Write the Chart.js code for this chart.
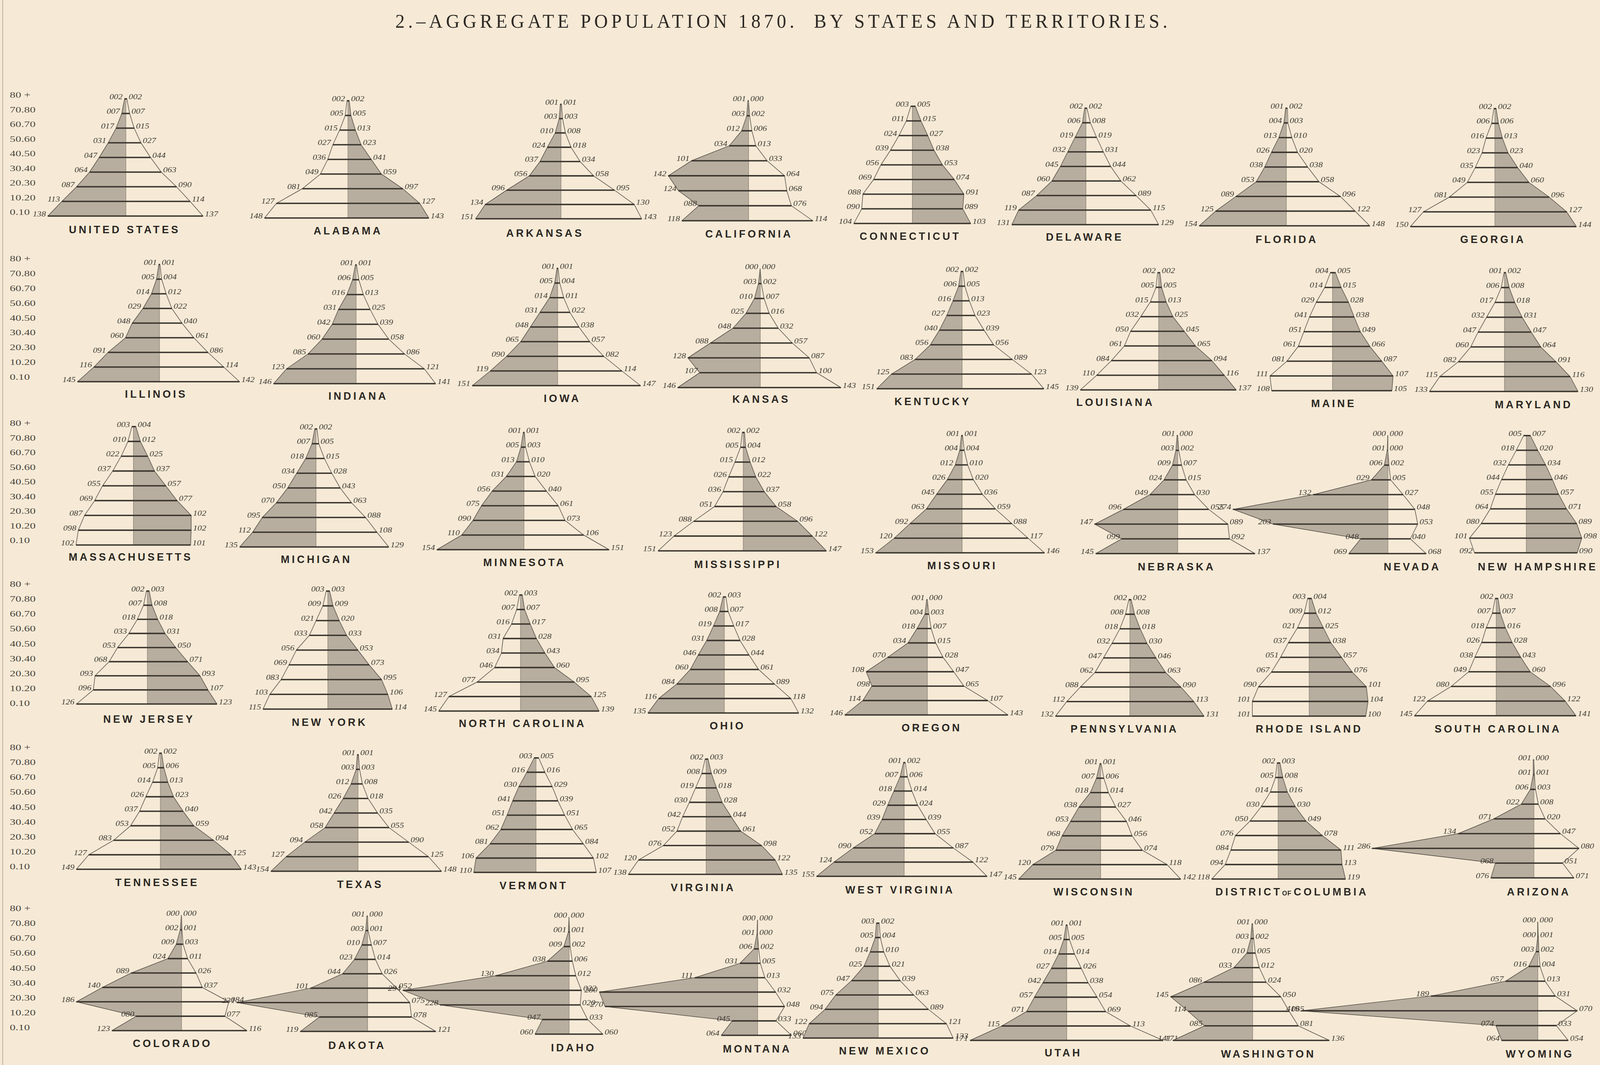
<!DOCTYPE html>
<html lang="en">
<head>
<meta charset="utf-8">
<title>Aggregate population 1870 by states and territories</title>
<script src="https://cdn.jsdelivr.net/npm/chart.js"></script>
<style>
  html, body { margin: 0; padding: 0; overflow: hidden; background: #f6ead6; }
  #plate {
    position: absolute; left: 0; top: 0;
    width: 4252px; height: 2726px;
    overflow: hidden;
    background: #f6ead6;
    transform-origin: 0 0;
  }
  canvas { position: absolute; }
  .edge {
    position: absolute; left: 6px; top: 0; width: 2px; height: 100%;
    background: rgba(110, 100, 90, 0.45);
  }
  .title {
    position: absolute; top: 29px; left: 2081px;
    transform: translateX(-50%);
    font-family: "Liberation Serif", serif; font-size: 50px; line-height: 1;
    letter-spacing: 9px; color: #2f2a26; white-space: nowrap;
  }
  .age {
    position: absolute; left: 26px;
    font-family: "Liberation Serif", serif; font-size: 21px; line-height: 1;
    color: #4a443d; white-space: nowrap;
    transform-origin: left center;
    transform: translateY(-50%) scaleX(1.45);
  }
  .state {
    position: absolute;
    font-family: "Liberation Sans", sans-serif; font-weight: bold;
    font-size: 28px; line-height: 1; letter-spacing: 6px; padding-left: 6px;
    color: #2b2723; white-space: nowrap;
    transform: translate(-50%, -50%);
  }
  .state small { font-size: 17px; letter-spacing: 1px; margin-right: 5px; }
</style>
</head>
<body>
<div id="plate">
  <div class="edge"></div>
  <div class="title">2.–AGGREGATE POPULATION 1870.&nbsp; BY STATES AND TERRITORIES.</div>
</div>
<script>
// Age groups, bottom line of each pyramid first
const ageGroups = ['0.10', '10.20', '20.30', '30.40', '40.50', '50.60', '60.70', '70.80', '80 +'];

const stateNames = [
  'UNITED STATES', 'ALABAMA', 'ARKANSAS', 'CALIFORNIA', 'CONNECTICUT', 'DELAWARE', 'FLORIDA', 'GEORGIA',
  'ILLINOIS', 'INDIANA', 'IOWA', 'KANSAS', 'KENTUCKY', 'LOUISIANA', 'MAINE', 'MARYLAND',
  'MASSACHUSETTS', 'MICHIGAN', 'MINNESOTA', 'MISSISSIPPI', 'MISSOURI', 'NEBRASKA', 'NEVADA', 'NEW HAMPSHIRE',
  'NEW JERSEY', 'NEW YORK', 'NORTH CAROLINA', 'OHIO', 'OREGON', 'PENNSYLVANIA', 'RHODE ISLAND', 'SOUTH CAROLINA',
  'TENNESSEE', 'TEXAS', 'VERMONT', 'VIRGINIA', 'WEST VIRGINIA', 'WISCONSIN', 'DISTRICT OF COLUMBIA', 'ARIZONA',
  'COLORADO', 'DAKOTA', 'IDAHO', 'MONTANA', 'NEW MEXICO', 'UTAH', 'WASHINGTON', 'WYOMING'
];

// Males per thousand of the population, by age group (left side)
const males = [
  [138, 113, 87, 64, 47, 31, 17, 7, 2],     // United States
  [148, 127, 81, 49, 36, 27, 15, 5, 2],     // Alabama
  [151, 134, 96, 56, 37, 24, 10, 3, 1],     // Arkansas
  [118, 88, 124, 142, 101, 34, 12, 3, 1],   // California
  [104, 90, 88, 69, 56, 39, 24, 11, 3],     // Connecticut
  [131, 119, 87, 60, 45, 32, 19, 6, 2],     // Delaware
  [154, 125, 89, 53, 38, 26, 13, 4, 1],     // Florida
  [150, 127, 81, 49, 35, 23, 16, 6, 2],     // Georgia
  [145, 116, 91, 60, 48, 29, 14, 5, 1],     // Illinois
  [146, 123, 85, 60, 42, 31, 16, 6, 1],     // Indiana
  [151, 119, 90, 65, 48, 31, 14, 5, 1],     // Iowa
  [146, 107, 128, 88, 48, 25, 10, 3, 0],    // Kansas
  [151, 125, 83, 56, 40, 27, 16, 6, 2],     // Kentucky
  [139, 110, 84, 61, 50, 32, 15, 5, 2],     // Louisiana
  [108, 111, 81, 61, 51, 41, 29, 14, 4],    // Maine
  [133, 115, 82, 60, 47, 32, 17, 6, 1],     // Maryland
  [102, 98, 87, 69, 55, 37, 22, 10, 3],     // Massachusetts
  [135, 112, 95, 70, 50, 34, 18, 7, 2],     // Michigan
  [154, 110, 90, 75, 56, 31, 13, 5, 1],     // Minnesota
  [151, 123, 88, 51, 36, 26, 15, 5, 2],     // Mississippi
  [153, 120, 92, 63, 45, 26, 12, 4, 1],     // Missouri
  [145, 99, 147, 96, 49, 24, 9, 3, 1],      // Nebraska
  [69, 48, 203, 274, 132, 29, 6, 1, 0],     // Nevada
  [92, 101, 80, 64, 55, 44, 32, 18, 5],     // New Hampshire
  [126, 96, 93, 68, 53, 33, 18, 7, 2],      // New Jersey
  [115, 103, 83, 69, 56, 33, 21, 9, 3],     // New York
  [145, 127, 77, 46, 34, 31, 16, 7, 2],     // North Carolina
  [135, 116, 84, 60, 46, 31, 19, 8, 2],     // Ohio
  [146, 114, 98, 108, 70, 34, 18, 4, 1],    // Oregon
  [132, 112, 88, 62, 47, 32, 18, 8, 2],     // Pennsylvania
  [101, 101, 90, 67, 51, 37, 21, 9, 3],     // Rhode Island
  [145, 122, 80, 49, 38, 26, 18, 7, 2],     // South Carolina
  [149, 127, 83, 53, 37, 26, 14, 5, 2],     // Tennessee
  [154, 127, 94, 58, 42, 26, 12, 3, 1],     // Texas
  [110, 106, 81, 62, 51, 41, 30, 16, 3],    // Vermont
  [138, 120, 76, 52, 42, 30, 19, 8, 2],     // Virginia
  [155, 124, 90, 52, 39, 29, 18, 7, 1],     // West Virginia
  [145, 120, 79, 68, 53, 38, 18, 7, 1],     // Wisconsin
  [118, 94, 84, 76, 50, 30, 14, 5, 2],      // District of Columbia
  [76, 68, 286, 134, 71, 22, 6, 1, 1],      // Arizona
  [123, 80, 186, 140, 89, 24, 9, 2, 0],     // Colorado
  [119, 85, 231, 101, 44, 23, 10, 3, 1],    // Dakota
  [60, 47, 228, 294, 130, 38, 9, 1, 0],     // Idaho
  [64, 45, 270, 280, 111, 31, 6, 1, 0],     // Montana
  [133, 122, 94, 75, 47, 25, 14, 5, 3],     // New Mexico
  [171, 115, 71, 57, 42, 27, 14, 5, 1],     // Utah
  [141, 85, 114, 145, 86, 33, 10, 3, 1],    // Washington
  [64, 74, 419, 189, 57, 16, 3, 0, 0]       // Wyoming
];

// Females per thousand of the population, by age group (right side)
const females = [
  [137, 114, 90, 63, 44, 27, 15, 7, 2],     // United States
  [143, 127, 97, 59, 41, 23, 13, 5, 2],     // Alabama
  [143, 130, 95, 58, 34, 18, 8, 3, 1],      // Arkansas
  [114, 76, 68, 64, 33, 13, 6, 2, 0],       // California
  [103, 89, 91, 74, 53, 38, 27, 15, 5],     // Connecticut
  [129, 115, 89, 62, 44, 31, 19, 8, 2],     // Delaware
  [148, 122, 96, 58, 38, 20, 10, 3, 2],     // Florida
  [144, 127, 96, 60, 40, 23, 13, 6, 2],     // Georgia
  [142, 114, 86, 61, 40, 22, 12, 4, 1],     // Illinois
  [141, 121, 86, 58, 39, 25, 13, 5, 1],     // Indiana
  [147, 114, 82, 57, 38, 22, 11, 4, 1],     // Iowa
  [143, 100, 87, 57, 32, 16, 7, 2, 0],      // Kansas
  [145, 123, 89, 56, 39, 23, 13, 5, 2],     // Kentucky
  [137, 116, 94, 65, 45, 25, 13, 5, 2],     // Louisiana
  [105, 107, 87, 66, 49, 38, 28, 15, 5],    // Maine
  [130, 116, 91, 64, 47, 31, 18, 8, 2],     // Maryland
  [101, 102, 102, 77, 57, 37, 25, 12, 4],   // Massachusetts
  [129, 108, 88, 63, 43, 28, 15, 5, 2],     // Michigan
  [151, 106, 73, 61, 40, 20, 10, 3, 1],     // Minnesota
  [147, 122, 96, 58, 37, 22, 12, 4, 2],     // Mississippi
  [146, 117, 88, 59, 36, 20, 10, 4, 1],     // Missouri
  [137, 92, 89, 55, 30, 15, 7, 2, 0],       // Nebraska
  [68, 40, 53, 48, 27, 5, 2, 0, 0],         // Nevada
  [90, 98, 89, 71, 57, 46, 34, 20, 7],      // New Hampshire
  [123, 107, 93, 71, 50, 31, 18, 8, 3],     // New Jersey
  [114, 106, 95, 73, 53, 33, 20, 9, 3],     // New York
  [139, 125, 95, 60, 43, 28, 17, 7, 3],     // North Carolina
  [132, 118, 89, 61, 44, 28, 17, 7, 3],     // Ohio
  [143, 107, 65, 47, 28, 15, 7, 3, 0],      // Oregon
  [131, 113, 90, 63, 46, 30, 18, 8, 2],     // Pennsylvania
  [100, 104, 101, 76, 57, 38, 25, 12, 4],   // Rhode Island
  [141, 122, 96, 60, 43, 28, 16, 7, 3],     // South Carolina
  [143, 125, 94, 59, 40, 23, 13, 6, 2],     // Tennessee
  [148, 125, 90, 55, 35, 18, 8, 3, 1],      // Texas
  [107, 102, 84, 65, 51, 39, 29, 16, 5],    // Vermont
  [135, 122, 98, 61, 44, 28, 18, 9, 3],     // Virginia
  [147, 122, 87, 55, 39, 24, 14, 6, 2],     // West Virginia
  [142, 118, 74, 56, 46, 27, 14, 6, 1],     // Wisconsin
  [119, 113, 111, 78, 49, 30, 16, 8, 3],    // District of Columbia
  [71, 51, 80, 47, 20, 8, 3, 1, 0],         // Arizona
  [116, 77, 84, 37, 26, 11, 3, 1, 0],       // Colorado
  [121, 78, 75, 52, 26, 14, 7, 1, 0],       // Dakota
  [60, 33, 20, 22, 12, 6, 2, 1, 0],         // Idaho
  [60, 33, 48, 32, 13, 5, 2, 0, 0],         // Montana
  [133, 121, 89, 63, 39, 21, 10, 4, 2],     // New Mexico
  [171, 113, 69, 54, 38, 26, 14, 5, 1],     // Utah
  [136, 81, 65, 50, 24, 12, 5, 2, 0],       // Washington
  [54, 33, 70, 31, 13, 4, 2, 1, 0]          // Wyoming
];

// Which half carries the tint on the plate ('M' left, 'F' right)
const shadedSide = [
  'M', 'F', 'M', 'M', 'F', 'M', 'M', 'F',
  'M', 'M', 'M', 'M', 'M', 'F', 'F', 'F',
  'F', 'M', 'M', 'F', 'M', 'M', 'M', 'F',
  'F', 'F', 'F', 'M', 'M', 'F', 'F', 'F',
  'F', 'M', 'M', 'F', 'M', 'M', 'F', 'M',
  'M', 'M', 'M', 'M', 'M', 'M', 'M', 'M'
];

// Layout in plate pixels: axis x, y of the 0.10 line, y of the 80 + point
const panelSpot = [
  [334, 553, 253], [925, 558, 258], [1490, 560, 267], [1989, 565, 258],
  [2425, 572, 272], [2885, 575, 277], [3418, 578, 277], [3973, 580, 278],
  [423, 977, 677], [946, 982, 678], [1481, 987, 687], [2020, 992, 688],
  [2556, 995, 695], [3079, 998, 698], [3541, 1000, 698], [3998, 1002, 698],
  [355, 1395, 1092], [839, 1400, 1098], [1392, 1407, 1107], [1975, 1410, 1107],
  [2556, 1415, 1115], [3129, 1417, 1115], [3688, 1417, 1115], [4056, 1415, 1115],
  [392, 1802, 1513], [871, 1815, 1513], [1383, 1820, 1523], [1924, 1825, 1528],
  [2464, 1830, 1535], [3003, 1833, 1535], [3479, 1833, 1532], [3976, 1832, 1532],
  [426, 2225, 1928], [951, 2230, 1932], [1424, 2233, 1940], [1877, 2238, 1943],
  [2402, 2243, 1952], [2924, 2250, 1955], [3397, 2250, 1953], [4076, 2247, 1945],
  [482, 2638, 2343], [976, 2640, 2345], [1512, 2647, 2348], [2013, 2650, 2355],
  [2333, 2657, 2363], [2834, 2663, 2368], [3328, 2663, 2365], [4086, 2663, 2360]
];

// Name centres, measured on a 1568 px wide proof of the plate
const nameSpot = [
  [121, 217], [340, 218], [533, 220], [733, 221], [891, 223], [1062, 224], [1260, 226], [1462, 226],
  [152, 372], [350, 374], [550, 376], [745, 377], [913, 379], [1092, 380], [1306, 381], [1502, 382],
  [127, 526], [309, 528], [513, 531], [722, 533], [942, 534], [1152, 535], [1383, 535], [1506, 535],
  [145, 679], [322, 682], [511, 683], [712, 685], [912, 687], [1101, 688], [1282, 688], [1467, 688],
  [153, 833], [352, 835], [522, 836], [688, 838], [881, 840], [1071, 842], [1265, 842], [1507, 842],
  [168, 985], [349, 987], [561, 989], [741, 990], [866, 992], [1041, 994], [1242, 995], [1508, 995]
];
const PROOF = 4252 / 1568;

// Centre y of the '80 +' and '0.10' row captions on the left margin
const rowAgeSpan = [[243, 543], [662, 965], [1083, 1383], [1495, 1800], [1913, 2218], [2325, 2630]];

const UNIT = 1.5;          // plate pixels per thousandth
const INK = '#3a352f';
const OUTLINE = '#524b44';
const SHADE = '#b8ae9f';

const plate = document.getElementById('plate');
// stretch the 4252 x 2726 plate over whatever viewport we are given
plate.style.transform = `scale(${window.innerWidth / 4252}, ${window.innerHeight / 2726})`;

const pad3 = (v) => String(v).padStart(3, '0');

// Writes the per-thousand figures beside each end of every age line
const figureLabels = {
  id: 'figureLabels',
  afterDatasetsDraw(chart, args, opts) {
    const { ctx, scales: { x, y } } = chart;
    ctx.save();
    ctx.font = 'italic 18px "Liberation Serif"';
    ctx.fillStyle = INK;
    ctx.textBaseline = 'middle';
    const put = (text, px, py, align) => {
      ctx.save();
      ctx.translate(px, py);
      ctx.scale(1.3, 1);
      ctx.textAlign = align;
      ctx.fillText(text, 0, 0);
      ctx.restore();
    };
    opts.left.forEach((v, k) => {
      const py = y.getPixelForValue(k) - 4;
      put(pad3(v), x.getPixelForValue(-v) - 5, py, 'right');
      put(pad3(opts.right[k]), x.getPixelForValue(opts.right[k]) + 5, py, 'left');
    });
    ctx.restore();
  }
};

function drawPyramid(i) {
  const m = males[i];
  const f = females[i];
  const [cx, baseY, topY] = panelSpot[i];
  const lMax = Math.max(...m);
  const rMax = Math.max(...f);
  const padX = 60, padTop = 22, padBottom = 12;

  const canvas = document.createElement('canvas');
  canvas.width = Math.round((lMax + rMax) * UNIT + 2 * padX);
  canvas.height = Math.round(baseY - topY + padTop + padBottom);
  canvas.style.left = (cx - lMax * UNIT - padX) + 'px';
  canvas.style.top = (topY - padTop) + 'px';
  plate.appendChild(canvas);

  const maleShaded = shadedSide[i] === 'M';

  new Chart(canvas, {
    type: 'bar',
    data: {
      labels: ageGroups,
      datasets: [
        {
          // the heavy age lines, from the male to the female outline
          type: 'bar',
          data: m.map((v, k) => [-v, f[k]]),
          backgroundColor: INK,
          barThickness: 3,
          order: 0,
          clip: false,
        },
        {
          type: 'line',
          data: m.map((v) => -v),
          borderColor: OUTLINE,
          borderWidth: 1.5,
          backgroundColor: SHADE,
          fill: maleShaded ? 'origin' : false,
          pointRadius: 0,
          tension: 0,
          order: 1,
          clip: false,
        },
        {
          type: 'line',
          data: f.slice(),
          borderColor: OUTLINE,
          borderWidth: 1.5,
          backgroundColor: SHADE,
          fill: maleShaded ? false : 'origin',
          pointRadius: 0,
          tension: 0,
          order: 1,
          clip: false,
        },
        {
          // middle axis
          type: 'line',
          data: m.map(() => 0),
          borderColor: OUTLINE,
          borderWidth: 1.6,
          pointRadius: 0,
          fill: false,
          order: 2,
          clip: false,
        },
      ],
    },
    options: {
      indexAxis: 'y',
      responsive: false,
      animation: false,
      events: [],
      layout: {
        padding: { left: padX, right: canvas.width - padX - (lMax + rMax) * UNIT, top: padTop, bottom: padBottom },
      },
      scales: {
        x: { type: 'linear', min: -lMax, max: rMax, display: false },
        y: { type: 'category', labels: ageGroups, reverse: true, offset: false, display: false },
      },
      plugins: {
        legend: { display: false },
        tooltip: { enabled: false },
        figureLabels: { left: m, right: f },
      },
    },
    plugins: [figureLabels],
  });
}

stateNames.forEach((name, i) => {
  drawPyramid(i);

  const div = document.createElement('div');
  div.className = 'state';
  const parts = name.split(' OF ');
  div.append(parts[0]);
  if (parts.length > 1) {
    const small = document.createElement('small');
    small.textContent = 'OF';
    div.append(small, parts[1]);
  }
  div.style.left = (nameSpot[i][0] * PROOF) + 'px';
  div.style.top = (nameSpot[i][1] * PROOF) + 'px';
  plate.appendChild(div);
});

// Age captions down the left margin of every row
rowAgeSpan.forEach(([top80, bottom010]) => {
  ageGroups.forEach((label, k) => {
    const div = document.createElement('div');
    div.className = 'age';
    div.textContent = label;
    div.style.top = (bottom010 - (bottom010 - top80) * k / 8) + 'px';
    plate.appendChild(div);
  });
});
</script>
</body>
</html>
